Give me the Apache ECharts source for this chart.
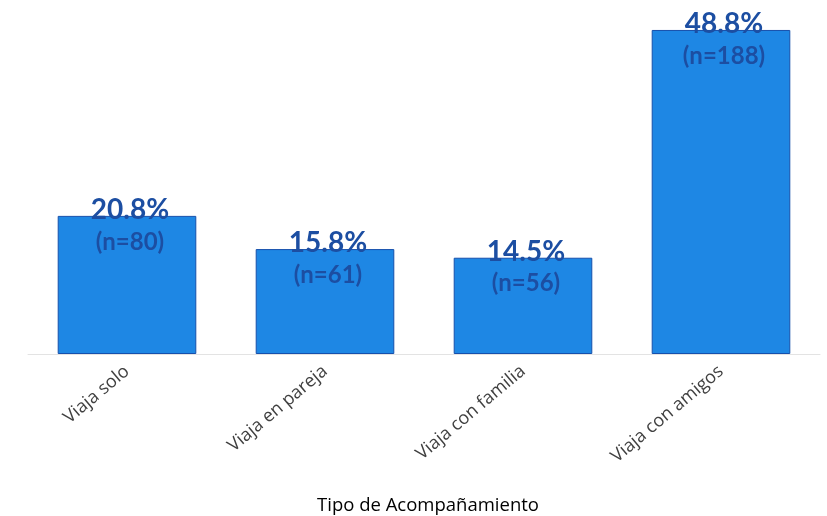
<!DOCTYPE html>
<html>
<head>
<meta charset="utf-8">
<script src="https://cdn.jsdelivr.net/npm/echarts@6/dist/echarts.min.js"></script>
<style>
    html, body { margin: 0; padding: 0; background: #ffffff; }
    #chart { width: 827px; height: 516px; }
</style>
</head>
<body>
<div id="chart"></div>
<script>
    // categorías y valores
    const categories = ['Viaja solo', 'Viaja en pareja', 'Viaja con familia', 'Viaja con amigos']
    const percents = [20.8, 15.8, 14.5, 48.8]
    const counts = [80, 61, 56, 188]

    const chart = echarts.init(document.getElementById('chart'))
    chart.setOption({
        animation: false,
        grid: {left: 28, right: 7, top: 22, bottom: 162, outerBoundsMode: 'none', containLabel: false},
        xAxis: {
            type: 'category',
            data: categories,
            name: 'Tipo de Acompañamiento',
            nameLocation: 'middle',
            nameGap: 142,
            nameTextStyle: {fontFamily: 'Open Sans', fontSize: 18.5, color: '#000000', padding: [0, 0, 0, 8]},
            axisLine: {lineStyle: {color: '#e3e3e3', width: 1}},
            axisTick: {show: false},
            axisLabel: {
                rotate: 40,
                interval: 0,
                margin: 15,
                fontFamily: 'Open Sans',
                fontSize: 18,
                color: '#404040'
            }
        },
        yAxis: {
            type: 'value',
            min: 0,
            max: 50,
            show: false,
            splitLine: {show: false}
        },
        series: [{
            type: 'bar',
            barWidth: '70%',
            data: percents.map((v, i) => ({value: v, n: counts[i]})),
            itemStyle: {color: '#1e87e4', borderColor: '#1650ac', borderWidth: 1},
            label: {
                show: true,
                position: 'insideTop',
                offset: [3, -28],
                formatter: p => `{p|${p.value.toFixed(1)}%}\n{n|(n=${p.data.n})}`,
                rich: {
                    p: {fontFamily: 'Lato', fontSize: 28, fontWeight: 'bold', color: '#1c4ea2', lineHeight: 34},
                    n: {fontFamily: 'Lato', fontSize: 24, fontWeight: 'bold', color: '#1c4ea2', lineHeight: 30}
                }
            }
        }]
    })
</script>
</body>
</html>
